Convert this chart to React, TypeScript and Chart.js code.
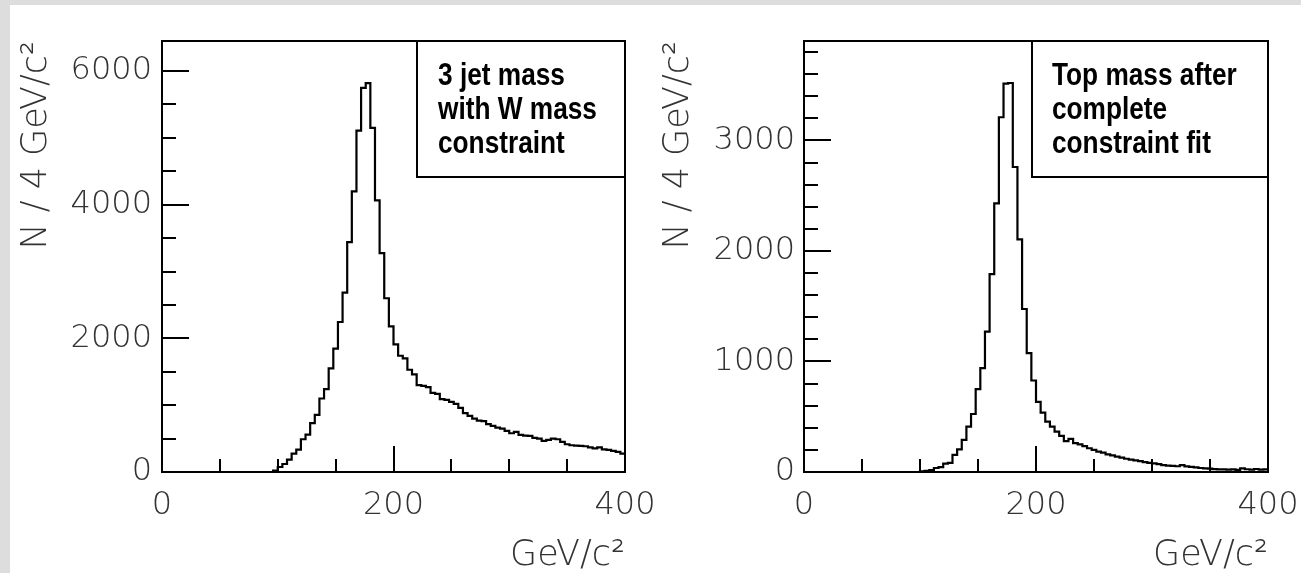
import React, { useEffect, useRef } from 'react';
import { Chart, registerables } from 'chart.js';

Chart.register(...registerables);

// ---- data ----
const BIN_WIDTH = 4; // GeV per bin
const X_MIN = 0;
const X_MAX = 400;

// 3 jet mass with W mass constraint, counts per 4 GeV bin (0-4, 4-8, ... 396-400)
const jetMassCounts = [
  0, 0, 0, 0, 0, 0, 0, 0, 0, 0, 0, 0, 0, 0, 0, 0, 0, 0, 0, 0, 0, 0, 0, 0,
  20, 75, 120, 185, 275, 335, 490, 560, 730, 855, 1100, 1240, 1550, 1845, 2245, 2685,
  3440, 4200, 5110, 5750, 5820, 5150, 4065, 3275, 2600, 2180, 1910, 1740, 1700, 1530, 1460, 1300,
  1290, 1270, 1185, 1170, 1090, 1080, 1050, 1020, 960, 880, 840, 800, 770, 760, 715, 690,
  665, 650, 615, 580, 600, 555, 545, 540, 510, 500, 465, 480, 500, 490, 450, 415,
  400, 395, 390, 385, 370, 355, 370, 340, 330, 315, 300, 275,
];

// Top mass after complete constraint fit, counts per 4 GeV bin
const topMassCounts = [
  0, 0, 0, 0, 0, 0, 0, 0, 0, 0, 0, 0, 0, 0, 0, 0, 0, 0, 0, 0, 0, 0, 0, 0, 0,
  5, 10, 18, 36, 45, 75, 82, 155, 205, 290, 410, 525, 750, 940, 1270,
  1790, 2430, 3210, 3515, 3520, 2760, 2105, 1475, 1076, 828, 635, 538, 455, 410, 366, 326,
  280, 300, 262, 250, 235, 215, 200, 185, 175, 160, 150, 140, 130, 120, 112, 105,
  98, 90, 82, 78, 72, 62, 58, 55, 52, 62, 50, 46, 42, 36, 33, 30,
  26, 24, 23, 22, 24, 20, 32, 25, 22, 27, 21, 23,
];

const xTickValues = [0, 50, 100, 150, 200, 250, 300, 350, 400];
const xTickLabels = [0, 200, 400];
const jetYTickValues = [0, 500, 1000, 1500, 2000, 2500, 3000, 3500, 4000, 4500, 5000, 5500, 6000];
const jetYTickLabels = [0, 2000, 4000, 6000];
const topYTickValues = [0, 200, 400, 600, 800, 1000, 1200, 1400, 1600, 1800, 2000, 2200, 2400, 2600, 2800, 3000, 3200, 3400, 3600, 3800];
const topYTickLabels = [0, 1000, 2000, 3000];
const yTitle = 'N / 4 GeV/c\u00B2';
const xTitle = 'GeV/c\u00B2';
const jetLegend = ['3 jet mass', 'with W mass', 'constraint'];
const topLegend = ['Top mass after', 'complete', 'constraint fit'];

// ---- styling ----
const TICK_FONT = { family: "'DejaVu Sans', sans-serif", size: 32, weight: '200' as any };
const TITLE_FONT = { family: "'DejaVu Sans', sans-serif", size: 35, weight: '200' as any, lineHeight: 1 };
const TEXT_COLOR = '#333';

const frameAndTicks = {
  id: 'frameAndTicks',
  afterDatasetsDraw(chart: any, _args: any, opts: any) {
    const { ctx, chartArea: a, scales } = chart;
    ctx.save();
    ctx.strokeStyle = '#000';
    ctx.lineWidth = 2;
    for (const t of scales.y.ticks) {
      const py = Math.round(scales.y.getPixelForValue(t.value));
      const len = opts.yMajor.includes(t.value) ? 27 : 14;
      ctx.beginPath();
      ctx.moveTo(a.left, py);
      ctx.lineTo(a.left + len, py);
      ctx.stroke();
    }
    for (const t of scales.x.ticks) {
      const px = Math.round(scales.x.getPixelForValue(t.value));
      const len = opts.xMajor.includes(t.value) ? 26 : 13;
      ctx.beginPath();
      ctx.moveTo(px, a.bottom);
      ctx.lineTo(px, a.bottom - len);
      ctx.stroke();
    }
    ctx.strokeRect(a.left, a.top, a.right - a.left, a.bottom - a.top);
    const bx = a.right - opts.boxWidth;
    const by = a.top;
    ctx.fillStyle = '#fff';
    ctx.fillRect(bx, by, opts.boxWidth, opts.boxHeight);
    ctx.strokeRect(bx, by, opts.boxWidth, opts.boxHeight);
    ctx.fillStyle = '#000';
    ctx.font = 'bold 32px "Liberation Sans", Arial, sans-serif';
    ctx.textBaseline = 'alphabetic';
    ctx.textAlign = 'left';
    opts.lines.forEach((l: string, i: number) => {
      ctx.save();
      ctx.translate(bx + opts.textInset, by + 44 + i * 34);
      ctx.scale(0.82, 1);
      ctx.fillText(l, 0, 0);
      ctx.restore();
    });
    ctx.restore();
  },
};

type PanelProps = {
  counts: number[];
  yMax: number;
  yTicks: number[];
  yLabels: number[];
  legend: string[];
  boxWidth: number;
  textInset: number;
  width: number;
  axisWidth: number;
  padRight: number;
  yTitlePad: number;
  yLabelPad: number;
  left: number;
};

function Panel(p: PanelProps) {
  const ref = useRef<HTMLCanvasElement | null>(null);
  useEffect(() => {
    if (!ref.current) return;
    const edges: number[] = [];
    for (let e = X_MIN; e <= X_MAX; e += BIN_WIDTH) edges.push(e);
    const points = edges.map((e, i) => ({ x: e, y: p.counts[Math.min(i, p.counts.length - 1)] }));
    const chart = new Chart(ref.current, {
      type: 'line',
      data: {
        datasets: [
          {
            data: points,
            stepped: 'before',
            borderColor: '#000',
            borderWidth: 2.2,
            pointRadius: 0,
            fill: false,
          },
        ],
      },
      options: {
        animation: false,
        responsive: false,
        devicePixelRatio: 1,
        layout: { padding: { top: 36, right: p.padRight, left: 0, bottom: 0 } },
        plugins: {
          legend: { display: false },
          tooltip: { enabled: false },
          frameAndTicks: {
            yMajor: p.yLabels,
            xMajor: xTickLabels,
            boxWidth: p.boxWidth,
            boxHeight: 136,
            textInset: p.textInset,
            lines: p.legend,
          },
        } as any,
        scales: {
          x: {
            type: 'linear',
            min: X_MIN,
            max: X_MAX,
            grid: { display: false, drawTicks: false },
            border: { display: false },
            afterBuildTicks: (s: any) => {
              s.ticks = xTickValues.map((v) => ({ value: v }));
            },
            ticks: {
              autoSkip: false,
              maxRotation: 0,
              padding: 14,
              color: TEXT_COLOR,
              font: TICK_FONT,
              callback: (v: any) => (xTickLabels.includes(Number(v)) ? String(v) : ''),
            },
            title: {
              display: true,
              text: xTitle,
              align: 'end',
              color: TEXT_COLOR,
              font: TITLE_FONT,
              padding: { top: 0, bottom: 0 },
            },
            afterFit: (s: any) => {
              s.height = 101;
            },
          },
          y: {
            type: 'linear',
            min: 0,
            max: p.yMax,
            grid: { display: false, drawTicks: false },
            border: { display: false },
            afterBuildTicks: (s: any) => {
              s.ticks = p.yTicks.map((v) => ({ value: v }));
            },
            ticks: {
              autoSkip: false,
              padding: p.yLabelPad,
              color: TEXT_COLOR,
              font: TICK_FONT,
              callback: (v: any) => (p.yLabels.includes(Number(v)) ? String(v) : ''),
            },
            title: {
              display: true,
              text: yTitle,
              align: 'end',
              color: TEXT_COLOR,
              font: TITLE_FONT,
              padding: { top: p.yTitlePad, bottom: 0 },
            },
            afterFit: (s: any) => {
              s.width = p.axisWidth;
            },
          },
        },
      } as any,
      plugins: [frameAndTicks as any],
    });
    return () => chart.destroy();
  }, []);
  return (
    <canvas
      ref={ref}
      width={p.width}
      height={568}
      style={{ position: 'absolute', left: p.left, top: 5, width: p.width, height: 568 }}
    />
  );
}

export default function App() {
  return (
    <div style={{ position: 'absolute', left: 0, top: 0, width: 1301, height: 573, background: '#dddddd', overflow: 'hidden' }}>
      <div style={{ position: 'absolute', left: 10, top: 5, width: 1291, height: 568, background: '#fff' }} />
      <Panel
        counts={jetMassCounts}
        yMax={6450}
        yTicks={jetYTickValues}
        yLabels={jetYTickLabels}
        legend={jetLegend}
        boxWidth={208}
        textInset={21}
        width={690}
        axisWidth={152}
        padRight={75}
        yTitlePad={9.5}
        yLabelPad={10}
        left={10}
      />
      <Panel
        counts={topMassCounts}
        yMax={3900}
        yTicks={topYTickValues}
        yLabels={topYTickLabels}
        legend={topLegend}
        boxWidth={236}
        textInset={20}
        width={700}
        axisWidth={154}
        padRight={82}
        yTitlePad={11.5}
        yLabelPad={9}
        left={650}
      />
    </div>
  );
}
